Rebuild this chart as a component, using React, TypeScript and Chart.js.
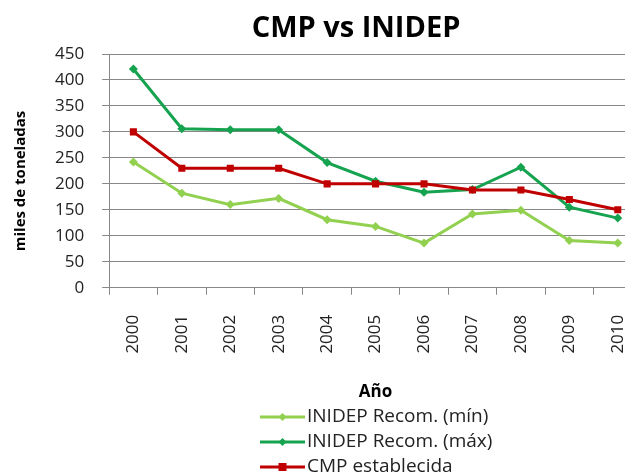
import React, { useEffect, useRef } from 'react';
import { Chart, registerables } from 'chart.js';

Chart.register(...registerables);

const years = ['2000', '2001', '2002', '2003', '2004', '2005', '2006', '2007', '2008', '2009', '2010'];
const inidepMin = [242, 182, 160, 172, 131, 118, 86, 142, 149, 91, 86];
const inidepMax = [421, 306, 304, 304, 241, 205, 184, 189, 232, 155, 134];
const cmpEstablecida = [300, 230, 230, 230, 200, 200, 200, 188, 188, 170, 150];
const seriesLabels = ['INIDEP Recom. (mín)', 'INIDEP Recom. (máx)', 'CMP establecida'];
const titleText = 'CMP vs INIDEP';
const yTitle = 'miles de toneladas';
const xTitle = 'Año';

const FONT = '"Open Sans", "Noto Sans", sans-serif';

const decorPlugin = {
  id: 'decor',
  afterDraw(chart: any) {
    const ctx = chart.ctx;
    ctx.save();
    // Title
    ctx.fillStyle = '#000';
    ctx.font = `bold 29px ${FONT}`;
    ctx.textAlign = 'center';
    ctx.textBaseline = 'middle';
    ctx.fillText(titleText, 356, 29);
    // Y axis title
    ctx.save();
    ctx.translate(21, 181);
    ctx.rotate(-Math.PI / 2);
    ctx.font = `bold 15px ${FONT}`;
    ctx.fillText(yTitle, 0, 0);
    ctx.restore();
    // Legend (stacked)
    const rows = [417, 442, 467];
    const lineX0 = 260;
    const lineX1 = 305;
    const textX = 307;
    chart.data.datasets.forEach((ds: any, i: number) => {
      const y = rows[i];
      ctx.strokeStyle = ds.borderColor;
      ctx.lineWidth = 3;
      ctx.beginPath();
      ctx.moveTo(lineX0, y);
      ctx.lineTo(lineX1, y);
      ctx.stroke();
      const cx = (lineX0 + lineX1) / 2;
      ctx.fillStyle = ds.borderColor;
      if (ds.pointStyle === 'rect') {
        ctx.fillRect(cx - 4, y - 4, 8, 8);
      } else {
        ctx.beginPath();
        ctx.moveTo(cx, y - 4);
        ctx.lineTo(cx + 4, y);
        ctx.lineTo(cx, y + 4);
        ctx.lineTo(cx - 4, y);
        ctx.closePath();
        ctx.fill();
      }
      ctx.fillStyle = '#222';
      ctx.font = `19px ${FONT}`;
      ctx.textBaseline = 'middle';
      ctx.textAlign = 'left';
      ctx.fillText(ds.label, textX, y);
    });
    ctx.restore();
  },
};

export default function App() {
  const canvasRef = useRef<HTMLCanvasElement | null>(null);

  useEffect(() => {
    if (!canvasRef.current) return;
    const chart = new Chart(canvasRef.current, {
      type: 'line',
      data: {
        labels: years,
        datasets: [
          {
            label: seriesLabels[0],
            data: inidepMin,
            borderColor: '#92D050',
            backgroundColor: '#92D050',
            borderWidth: 3,
            pointStyle: 'rectRot',
            pointRadius: 4.5,
            pointBorderWidth: 0,
            order: 2,
          },
          {
            label: seriesLabels[1],
            data: inidepMax,
            borderColor: '#16A34F',
            backgroundColor: '#16A34F',
            borderWidth: 3,
            pointStyle: 'rectRot',
            pointRadius: 4.5,
            pointBorderWidth: 0,
            order: 1,
          },
          {
            label: seriesLabels[2],
            data: cmpEstablecida,
            borderColor: '#C00000',
            backgroundColor: '#C00000',
            borderWidth: 3,
            pointStyle: 'rect',
            pointRadius: 5,
            pointBorderWidth: 0,
            order: 0,
          },
        ],
      },
      options: {
        animation: false,
        responsive: true,
        maintainAspectRatio: false,
        layout: { padding: { left: 37, right: 70, top: 54, bottom: 66 } },
        plugins: {
          legend: { display: false },
          tooltip: { enabled: false },
          title: { display: false },
        },
        scales: {
          x: {
            offset: true,
            grid: {
              offset: true,
              drawOnChartArea: false,
              drawTicks: true,
              tickLength: 7,
              color: '#888',
            },
            border: { display: true, color: '#888', width: 1 },
            ticks: {
              minRotation: 90,
              maxRotation: 90,
              padding: 20,
              color: '#222',
              font: { family: FONT, size: 17 },
            },
            title: {
              display: true,
              text: xTitle,
              color: '#000',
              font: { family: FONT, size: 17, weight: 'bold' },
              padding: { top: 8, bottom: 4 },
            },
          },
          y: {
            min: 0,
            max: 450,
            ticks: {
              stepSize: 50,
              padding: 18,
              color: '#222',
              font: { family: FONT, size: 17 },
            },
            grid: {
              color: '#888',
              tickLength: 7,
              drawTicks: true,
            },
            border: { display: true, color: '#888', width: 1 },
            title: { display: false },
          },
        },
      },
      plugins: [decorPlugin],
    });
    return () => chart.destroy();
  }, []);

  return (
    <div style={{ position: 'absolute', left: 0, top: 0, width: 625, height: 472, overflow: 'hidden' }}>
      <div style={{ position: 'relative', width: 712, height: 472 }}>
        <canvas ref={canvasRef} />
      </div>
    </div>
  );
}
